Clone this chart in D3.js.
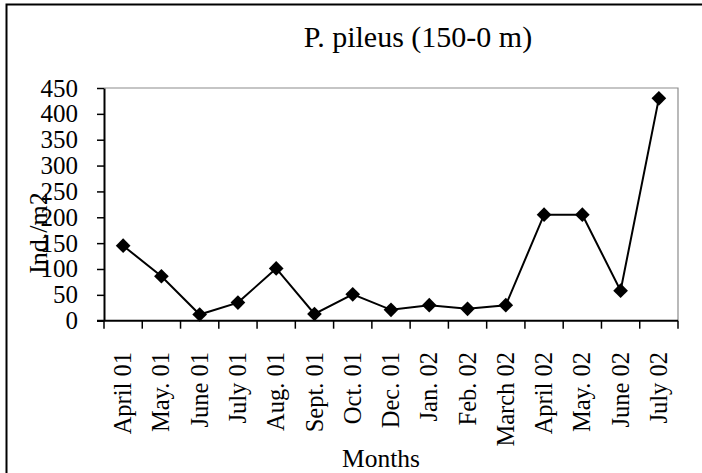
<!DOCTYPE html>
<html>
<head>
<meta charset="utf-8">
<script src="https://cdn.jsdelivr.net/npm/d3@7"></script>
<style>
  html, body { margin: 0; padding: 0; background: #fff; }
  svg { display: block; }
  text { font-family: "Liberation Serif", "Times New Roman", serif; fill: #000; }
</style>
</head>
<body>
<svg id="chart" width="702" height="473"></svg>
<script>
// Monthly abundance of P. pileus in the 150-0 m layer
const months = ["April 01", "May. 01", "June 01", "July 01", "Aug. 01", "Sept. 01", "Oct. 01",
  "Dec. 01", "Jan. 02", "Feb. 02", "March 02", "April 02", "May. 02", "June 02", "July 02"];
const abundance = [145, 86, 12, 35, 101, 13, 51, 21, 30, 23, 30, 205, 205, 58, 430];
const yTicks = [0, 50, 100, 150, 200, 250, 300, 350, 400, 450];
const titleText = "P. pileus (150-0 m)";
const xTitle = "Months";
const yTitle = "Ind./m2";

const serif = '"Liberation Serif", "Times New Roman", serif';
const svg = d3.select("#chart");
const plot = { left: 104, right: 678, top: 88, bottom: 320.7 };

// outer frame (runs off the right and bottom edges)
svg.append("rect")
  .attr("x", 6.5).attr("y", 4.5)
  .attr("width", 720).attr("height", 500)
  .attr("fill", "none").attr("stroke", "#000").attr("stroke-width", 2);

const x = d3.scaleBand().domain(months).range([plot.left, plot.right]).padding(0);
const y = d3.scaleLinear().domain([0, 450]).range([plot.bottom, plot.top]);

// plot-area border (top and right in grey)
svg.append("path")
  .attr("d", `M${plot.left},${plot.top}H${plot.right}V${plot.bottom}`)
  .attr("fill", "none").attr("stroke", "#8c8c8c").attr("stroke-width", 1.2);

// y axis
const yAxis = svg.append("g")
  .attr("transform", `translate(${plot.left},0)`)
  .call(d3.axisLeft(y).tickValues(yTicks).tickSize(7).tickPadding(19).tickSizeOuter(0));
yAxis.attr("font-family", serif).attr("font-size", 25);
yAxis.select(".domain").attr("stroke", "#000").attr("stroke-width", 2);
yAxis.selectAll(".tick line").attr("stroke", "#000").attr("stroke-width", 1.5);
yAxis.selectAll(".tick text")
  .attr("font-family", serif)
  .style("font-family", serif)
  .style("font-size", "25px").attr("fill", "#000");

// x axis: ticks between categories, rotated labels under each band
const bounds = d3.range(months.length + 1).map(i => plot.left + i * x.step());
const xg = svg.append("g");
xg.append("line")
  .attr("x1", plot.left - 7).attr("x2", plot.right)
  .attr("y1", plot.bottom).attr("y2", plot.bottom)
  .attr("stroke", "#000").attr("stroke-width", 2);
xg.selectAll("line.tk").data(bounds).join("line").attr("class", "tk")
  .attr("x1", d => d).attr("x2", d => d)
  .attr("y1", plot.bottom).attr("y2", plot.bottom + 8)
  .attr("stroke", "#000").attr("stroke-width", 1.5);
xg.selectAll("text").data(months).join("text")
  .attr("transform", d => `translate(${x(d) + x.bandwidth() / 2},352) rotate(-90)`)
  .attr("text-anchor", "end")
  .attr("dy", "0.33em")
  .style("font-size", "24.5px")
  .text(d => d);

// series line and diamond markers
const pts = months.map((m, i) => [x(m) + x.bandwidth() / 2, y(abundance[i])]);
svg.append("path")
  .attr("d", d3.line()(pts))
  .attr("fill", "none").attr("stroke", "#000").attr("stroke-width", 2);
svg.selectAll("path.mk").data(pts).join("path").attr("class", "mk")
  .attr("transform", d => `translate(${d[0]},${d[1]}) rotate(45)`)
  .attr("d", d3.symbol(d3.symbolSquare, 108)())
  .attr("fill", "#000");

// titles
svg.append("text")
  .attr("x", 418).attr("y", 46.7)
  .attr("text-anchor", "middle")
  .style("font-size", "30px")
  .text(titleText);
svg.append("text")
  .attr("x", 381).attr("y", 466.7)
  .attr("text-anchor", "middle")
  .style("font-size", "25.5px")
  .text(xTitle);
svg.append("text")
  .attr("transform", "translate(46.5,233) rotate(-90)")
  .attr("text-anchor", "middle")
  .style("font-size", "26px")
  .text(yTitle);
</script>
</body>
</html>
